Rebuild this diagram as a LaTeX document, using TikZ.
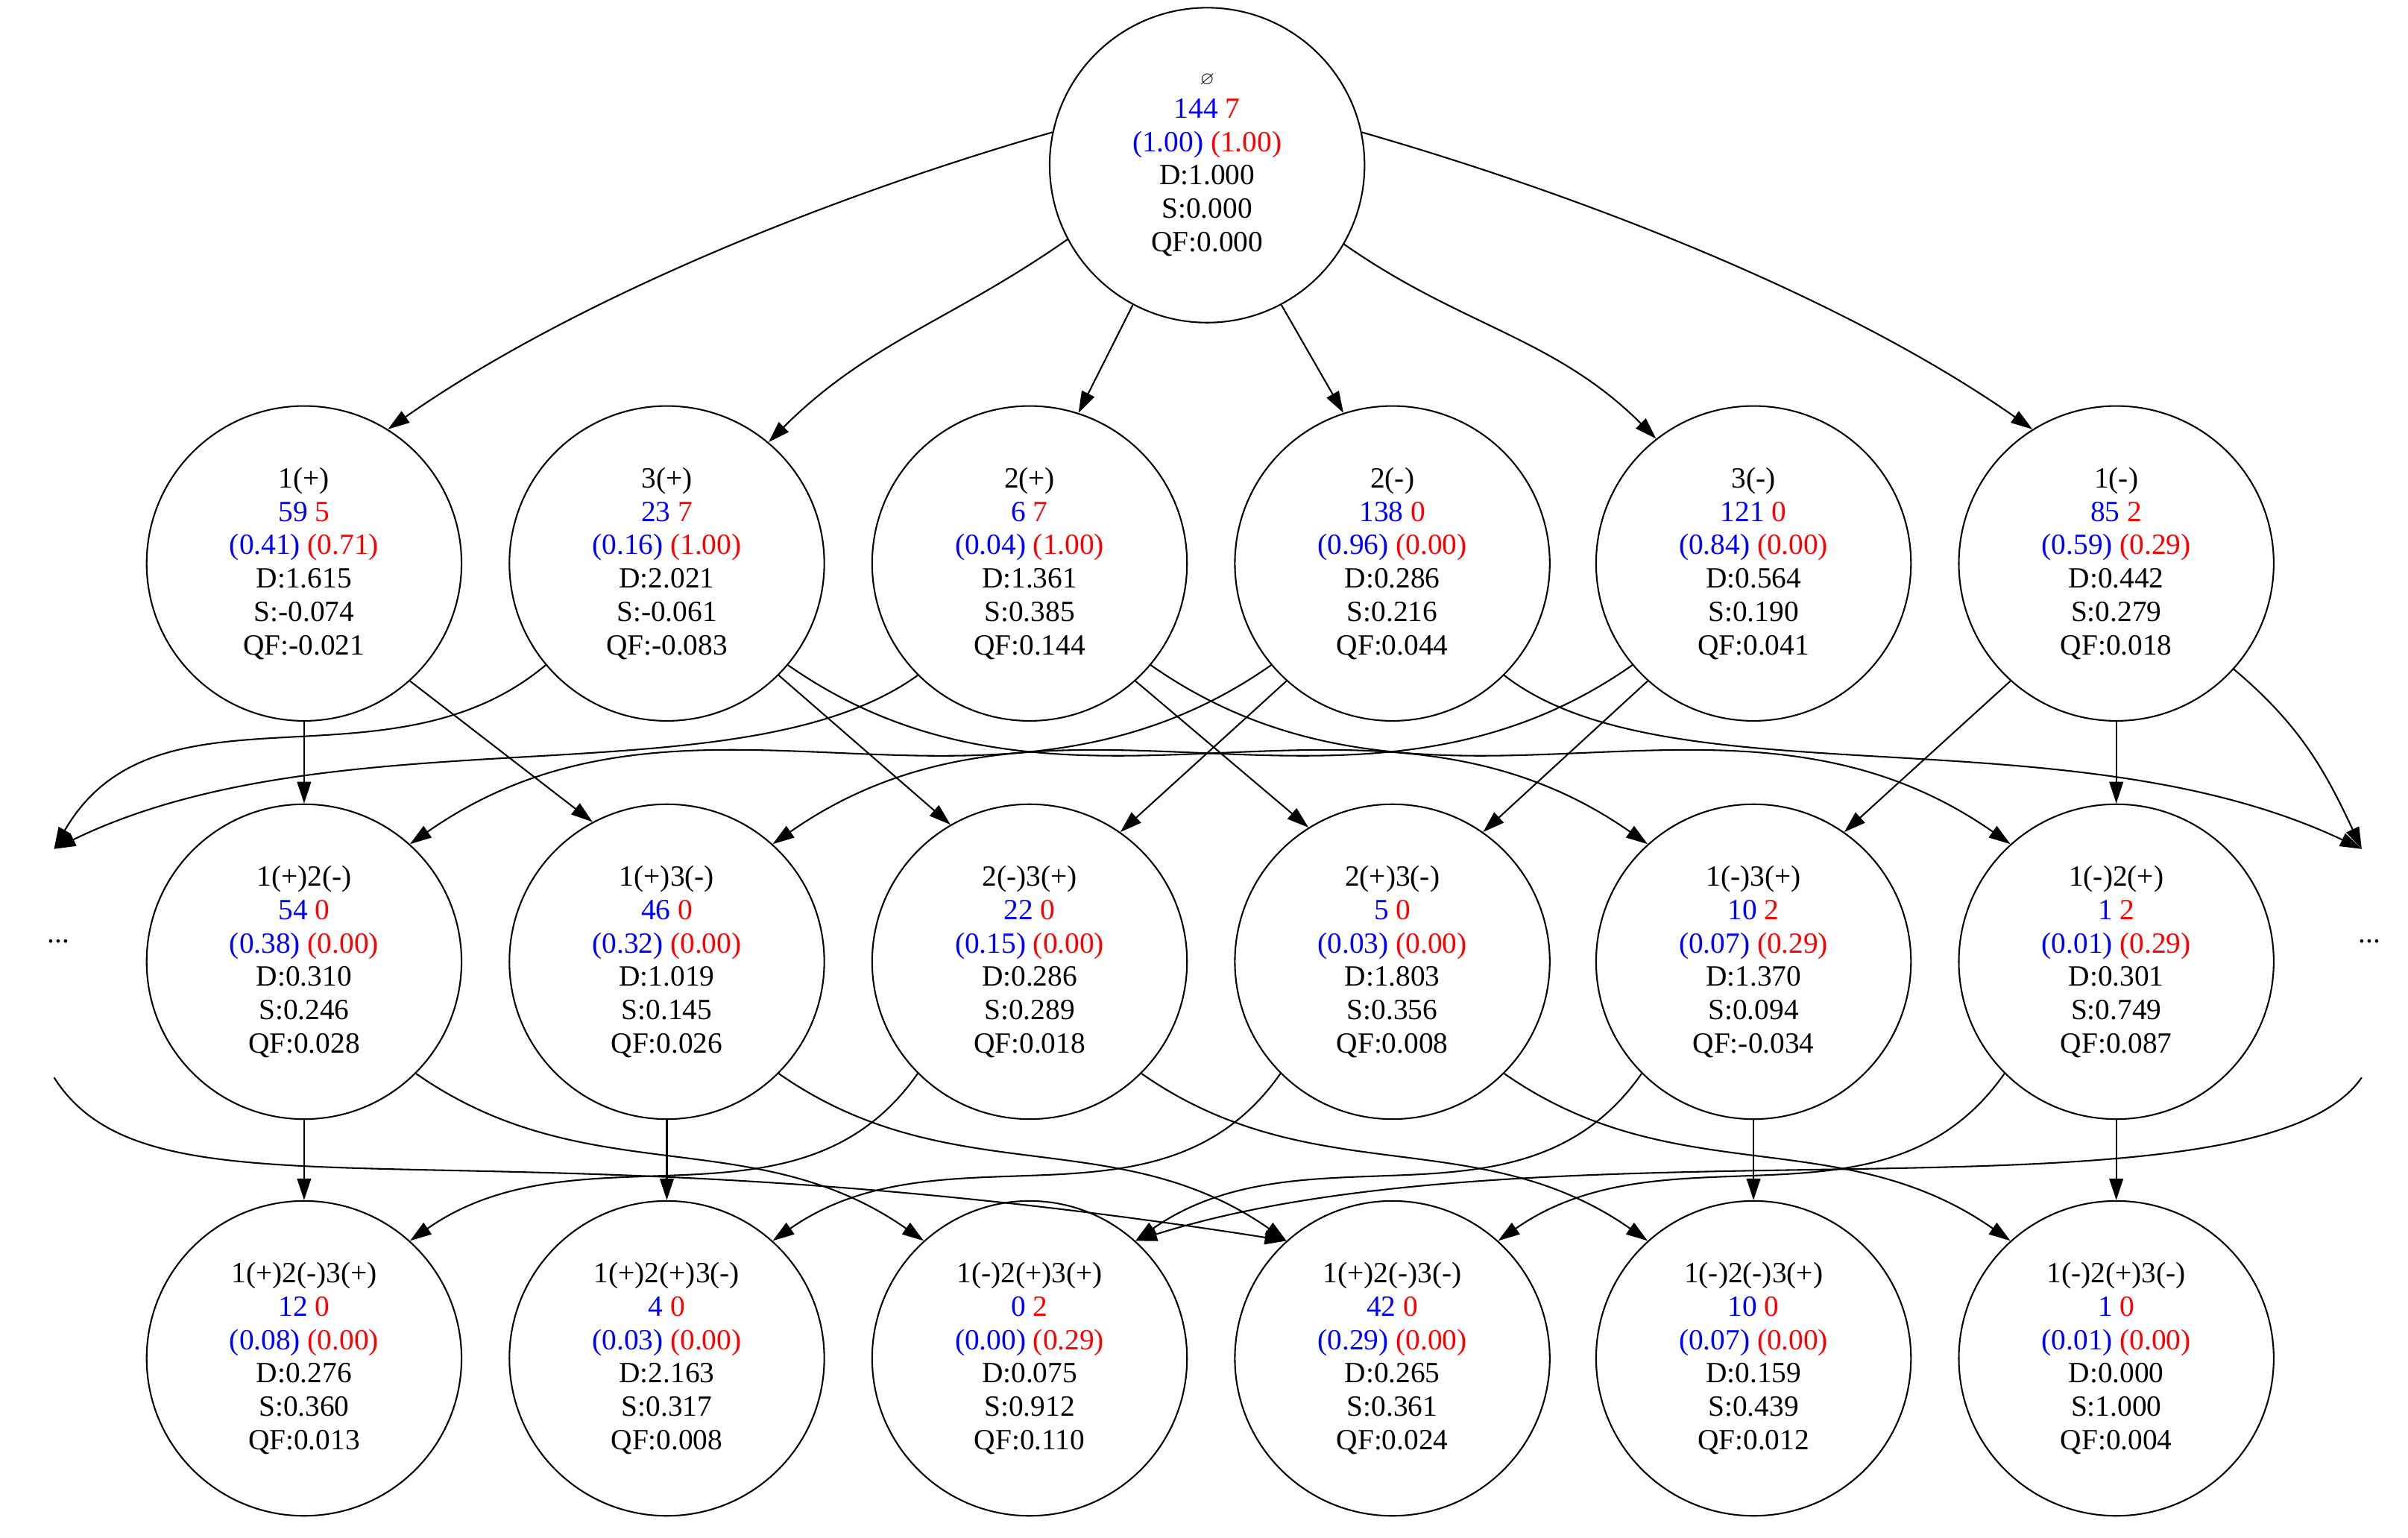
\documentclass[tikz,border=0pt]{standalone}
\usepackage{amssymb}
\usepackage{fontspec}
\setmainfont{Liberation Serif}
\usetikzlibrary{arrows.meta}
\newcommand{\nd}[8]{#1\\\textcolor{blue}{#2} \textcolor{red}{#3}\\\textcolor{blue}{(#4)} \textcolor{red}{(#5)}\\D:#6\\S:#7\\QF:#8}
\begin{document}
\begin{tikzpicture}[x=1pt,y=-1pt,
  st/.style={circle,draw,line width=1pt,minimum size=204pt,inner sep=0pt,align=center,font=\fontsize{19}{21.6}\selectfont},
  ed/.style={-{Triangle[length=14pt,width=9pt]},line width=1pt}]
\useasboundingbox (0,0) rectangle (1560,996);
\node[st] (root) at (782,107) {{\fontsize{12}{14}\selectfont$\varnothing$}\\\textcolor{blue}{144} \textcolor{red}{7}\\\textcolor{blue}{(1.00)} \textcolor{red}{(1.00)}\\D:1.000\\S:0.000\\QF:0.000};
\node[st] (P) at (197,365) {\nd{1(+)}{59}{5}{0.41}{0.71}{1.615}{-0.074}{-0.021}};
\node[st] (Q) at (432,365) {\nd{3(+)}{23}{7}{0.16}{1.00}{2.021}{-0.061}{-0.083}};
\node[st] (R) at (667,365) {\nd{2(+)}{6}{7}{0.04}{1.00}{1.361}{0.385}{0.144}};
\node[st] (S) at (902,365) {\nd{2(-)}{138}{0}{0.96}{0.00}{0.286}{0.216}{0.044}};
\node[st] (T) at (1136,365) {\nd{3(-)}{121}{0}{0.84}{0.00}{0.564}{0.190}{0.041}};
\node[st] (U) at (1371,365) {\nd{1(-)}{85}{2}{0.59}{0.29}{0.442}{0.279}{0.018}};
\node[st] (A) at (197,623) {\nd{1(+)2(-)}{54}{0}{0.38}{0.00}{0.310}{0.246}{0.028}};
\node[st] (B) at (432,623) {\nd{1(+)3(-)}{46}{0}{0.32}{0.00}{1.019}{0.145}{0.026}};
\node[st] (C) at (667,623) {\nd{2(-)3(+)}{22}{0}{0.15}{0.00}{0.286}{0.289}{0.018}};
\node[st] (D) at (902,623) {\nd{2(+)3(-)}{5}{0}{0.03}{0.00}{1.803}{0.356}{0.008}};
\node[st] (E) at (1136,623) {\nd{1(-)3(+)}{10}{2}{0.07}{0.29}{1.370}{0.094}{-0.034}};
\node[st] (F) at (1371,623) {\nd{1(-)2(+)}{1}{2}{0.01}{0.29}{0.301}{0.749}{0.087}};
\node[st] (a) at (197,880) {\nd{1(+)2(-)3(+)}{12}{0}{0.08}{0.00}{0.276}{0.360}{0.013}};
\node[st] (b) at (432,880) {\nd{1(+)2(+)3(-)}{4}{0}{0.03}{0.00}{2.163}{0.317}{0.008}};
\node[st] (c) at (667,880) {\nd{1(-)2(+)3(+)}{0}{2}{0.00}{0.29}{0.075}{0.912}{0.110}};
\node[st] (d) at (902,880) {\nd{1(+)2(-)3(-)}{42}{0}{0.29}{0.00}{0.265}{0.361}{0.024}};
\node[st] (e) at (1136,880) {\nd{1(-)2(-)3(+)}{10}{0}{0.07}{0.00}{0.159}{0.439}{0.012}};
\node[st] (f) at (1371,880) {\nd{1(-)2(+)3(-)}{1}{0}{0.01}{0.00}{0.000}{1.000}{0.004}};
\node[font=\fontsize{19}{21.6}\selectfont] (ldots) at (38,610) {...};
\node[font=\fontsize{19}{21.6}\selectfont] (rdots) at (1535,610) {...};
\coordinate (Lin) at (35,550);
\coordinate (Rin) at (1530,550);
\coordinate (Lout) at (35,698);
\coordinate (Rout) at (1530,698);
% root edges
\draw[ed] (root.168) to[out=196,in=35,looseness=0.8] (P.58);
\draw[ed] (root.208) to[out=215,in=45] (Q.50);
\draw[ed] (root.242) -- (R.72);
\draw[ed] (root.-62) -- (S.108);
\draw[ed] (root.-30) to[out=-35,in=135] (T.128);
\draw[ed] (root.12) to[out=-16,in=145,looseness=0.8] (U.122);
% row2 -> row3
\draw[ed] (P) -- (A);
\draw[ed] (P.-48) -- (B.118);
\draw[ed] (Q.-45) -- (C.120);
\draw[ed] (S.-132) -- (C.55);
\draw[ed] (R.-48) -- (D.122);
\draw[ed] (T.-132) -- (D.55);
\draw[ed] (U.-132) -- (E.55);
\draw[ed] (U) -- (F);
\draw[ed] (S.-140) to[out=215,in=35] (A.48);
\draw[ed] (T.-140) to[out=215,in=35] (B.48);
\draw[ed] (Q.-40) to[out=-35,in=145] (E.132);
\draw[ed] (R.-40) to[out=-35,in=145] (F.132);
\draw[ed] (Q.-140) to[out=220,in=60] (Lin);
\draw[ed] (R.-135) .. controls (480,520) and (220,460) .. (Lin);
\draw[ed] (S.-45) .. controls (1080,520) and (1340,460) .. (Rin);
\draw[ed] (U.-42) to[out=-40,in=115] (Rin);
% row3 -> row4
\draw[ed] (A) -- (a);
\draw[ed] (B) -- (b);
\draw[ed] (E) -- (e);
\draw[ed] (F) -- (f);
\draw[ed] (C.-135) to[out=-125,in=35] (a.48);
\draw[ed] (D.-135) to[out=-125,in=35] (b.48);
\draw[ed] (E.-135) to[out=-125,in=35] (c.48);
\draw[ed] (F.-135) to[out=-125,in=35] (d.48);
\draw[ed] (A.-45) to[out=-35,in=145] (c.132);
\draw[ed] (B.-45) to[out=-35,in=145] (d.132);
\draw[ed] (C.-45) to[out=-35,in=145] (e.132);
\draw[ed] (D.-45) to[out=-35,in=145] (f.132);
\draw[ed] (Lout) .. controls (100,800) and (300,720) .. (d.132);
\draw[ed] (Rout) .. controls (1460,800) and (1000,720) .. (c.48);
\end{tikzpicture}
\end{document}
